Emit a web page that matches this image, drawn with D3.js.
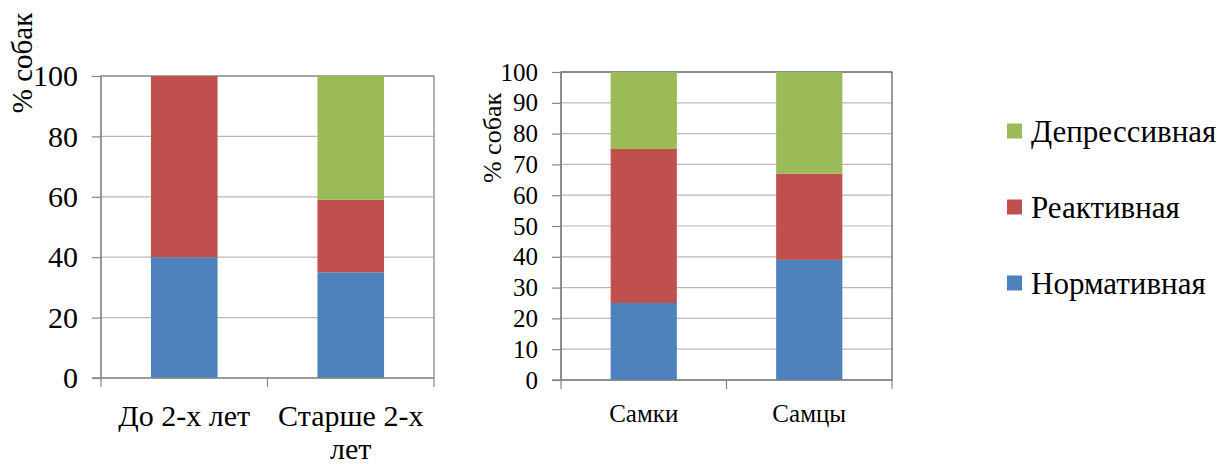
<!DOCTYPE html>
<html>
<head>
<meta charset="utf-8">
<script src="https://cdn.jsdelivr.net/npm/d3@7"></script>
<style>
  html, body { margin: 0; padding: 0; background: #fff; }
  svg { display: block; }
  svg text, svg tspan, svg .tick text {
    font-family: "Liberation Serif", "Tinos", "Times New Roman", "Times", "Nimbus Roman", serif !important;
  }
</style>
</head>
<body>
<svg id="chart" width="1220" height="464"></svg>
<script>
const FONT = '"Liberation Serif", "Tinos", "Times New Roman", "Times", serif';
// ---- data ----
const seriesNames = ["Нормативная", "Реактивная", "Депрессивная"];
const seriesColors = ["#4F81BD", "#C0504D", "#9BBB59"];

const ageCategories = ["До 2-х лет", "Старше 2-х лет"];
const ageNormative  = [40, 35];
const ageReactive   = [60, 24];
const ageDepressive = [0, 41];
const ageTicks = [0, 20, 40, 60, 80, 100];

const sexCategories = ["Самки", "Самцы"];
const sexNormative  = [25, 39];
const sexReactive   = [50, 28];
const sexDepressive = [25, 33];
const sexTicks = [0, 10, 20, 30, 40, 50, 60, 70, 80, 90, 100];

const yLabel = "% собак";

// ---- drawing ----
const svg = d3.select("#chart").attr("font-family", FONT);

function wrapText(textSel, width, lineHeight) {
  textSel.each(function() {
    const t = d3.select(this);
    const words = t.text().split(/\s+/);
    const x = t.attr("x"), y = t.attr("y");
    t.text(null);
    let line = [];
    let lineNo = 0;
    let tspan = t.append("tspan").attr("x", x).attr("y", y);
    words.forEach(w => {
      line.push(w);
      tspan.text(line.join(" "));
      if (tspan.node().getComputedTextLength() > width && line.length > 1) {
        line.pop();
        tspan.text(line.join(" "));
        line = [w];
        lineNo++;
        tspan = t.append("tspan").attr("x", x).attr("y", +y + lineNo * lineHeight).text(w);
      }
    });
  });
}

function drawChart(opts) {
  const { cats, norm, react, depr, ticks, left, right, top, bottom,
          fontSize, labelSize, labelX, labelY, xLabelY, lineH, borderColor } = opts;
  const rows = cats.map((c, i) => ({ cat: c, "Нормативная": norm[i], "Реактивная": react[i], "Депрессивная": depr[i] }));
  const stacked = d3.stack().keys(seriesNames)(rows);

  const x = d3.scaleBand().domain(cats).range([left, right]).padding(0);
  const y = d3.scaleLinear().domain([0, 100]).range([bottom, top]);
  const g = svg.append("g");

  g.selectAll("line.grid").data(ticks.filter(t => t > 0)).join("line")
    .attr("x1", left).attr("x2", right)
    .attr("y1", d => y(d)).attr("y2", d => y(d))
    .attr("stroke", "#b9b9b9").attr("stroke-width", 1.2);

  g.append("rect").attr("x", left).attr("y", top)
    .attr("width", right - left).attr("height", bottom - top)
    .attr("fill", "none").attr("stroke", borderColor).attr("stroke-width", 1.2);

  const bw = x.bandwidth() * 0.4;
  stacked.forEach((s, si) => {
    g.selectAll(null).data(s).join("rect")
      .attr("x", d => x(d.data.cat) + (x.bandwidth() - bw) / 2)
      .attr("width", bw)
      .attr("y", d => y(d[1]))
      .attr("height", d => Math.max(0, y(d[0]) - y(d[1])))
      .attr("fill", seriesColors[si]);
  });

  const yAxis = d3.axisLeft(y).tickValues(ticks).tickSize(9).tickPadding(14).tickFormat(d3.format("d"));
  const ya = g.append("g").attr("transform", `translate(${left},0)`).call(yAxis)
    .attr("font-family", FONT).attr("font-size", fontSize);
  ya.select(".domain").attr("stroke", "#868686").attr("stroke-width", 1.2)
    .attr("d", `M-9,${bottom}H0V${top}`);
  ya.selectAll(".tick line").attr("stroke", "#868686").attr("stroke-width", 1.2);
  ya.selectAll(".tick text").attr("fill", "#000")
    .attr("font-family", FONT)
    .style("font-family", FONT).style("font-size", fontSize + "px");

  const xa = g.append("g").attr("transform", `translate(0,${bottom})`);
  xa.append("line").attr("x1", left - 9).attr("x2", right).attr("y1", 0).attr("y2", 0)
    .attr("stroke", "#868686").attr("stroke-width", 1.2);
  const bounds = cats.map(c => x(c)).concat([right]);
  xa.selectAll("line.tk").data(bounds).join("line")
    .attr("x1", d => d).attr("x2", d => d).attr("y1", 0).attr("y2", 9)
    .attr("stroke", "#868686").attr("stroke-width", 1.2);
  xa.selectAll("text.cat").data(cats).join("text")
    .attr("class", "cat")
    .attr("x", d => x(d) + x.bandwidth() / 2)
    .attr("y", xLabelY - bottom)
    .attr("text-anchor", "middle")
    .attr("font-family", FONT)
    .style("font-family", FONT).style("font-size", fontSize + "px")
    .text(d => d)
    .call(wrapText, x.bandwidth(), lineH);

  svg.append("text")
    .attr("transform", `translate(${labelX},${labelY}) rotate(-90)`)
    .attr("text-anchor", "middle")
    .attr("font-family", FONT)
    .style("font-family", FONT).style("font-size", labelSize + "px")
    .text(yLabel);
}

drawChart({
  cats: ageCategories, norm: ageNormative, react: ageReactive, depr: ageDepressive,
  ticks: ageTicks, left: 101, right: 434, top: 76, bottom: 378,
  fontSize: 30, labelSize: 29, labelX: 32, labelY: 63, xLabelY: 426, lineH: 33, borderColor: "#808080"
});

drawChart({
  cats: sexCategories, norm: sexNormative, react: sexReactive, depr: sexDepressive,
  ticks: sexTicks, left: 561, right: 892, top: 72, bottom: 380,
  fontSize: 25, labelSize: 26, labelX: 501, labelY: 138, xLabelY: 422, lineH: 28, borderColor: "#555555"
});

const legendItems = seriesNames.map((n, i) => ({ name: n, color: seriesColors[i] })).reverse();
const legendY = d3.scalePoint().domain(legendItems.map(d => d.name)).range([131, 283]);
const lg = svg.append("g");
lg.selectAll("rect").data(legendItems).join("rect")
  .attr("x", 1007).attr("y", d => legendY(d.name) - 7.5)
  .attr("width", 15).attr("height", 15).attr("fill", d => d.color);
lg.selectAll("text").data(legendItems).join("text")
  .attr("x", 1031).attr("y", d => legendY(d.name) + 10.5)
  .attr("font-family", FONT)
  .style("font-family", FONT).style("font-size", "31px")
  .text(d => d.name);
</script>
</body>
</html>
